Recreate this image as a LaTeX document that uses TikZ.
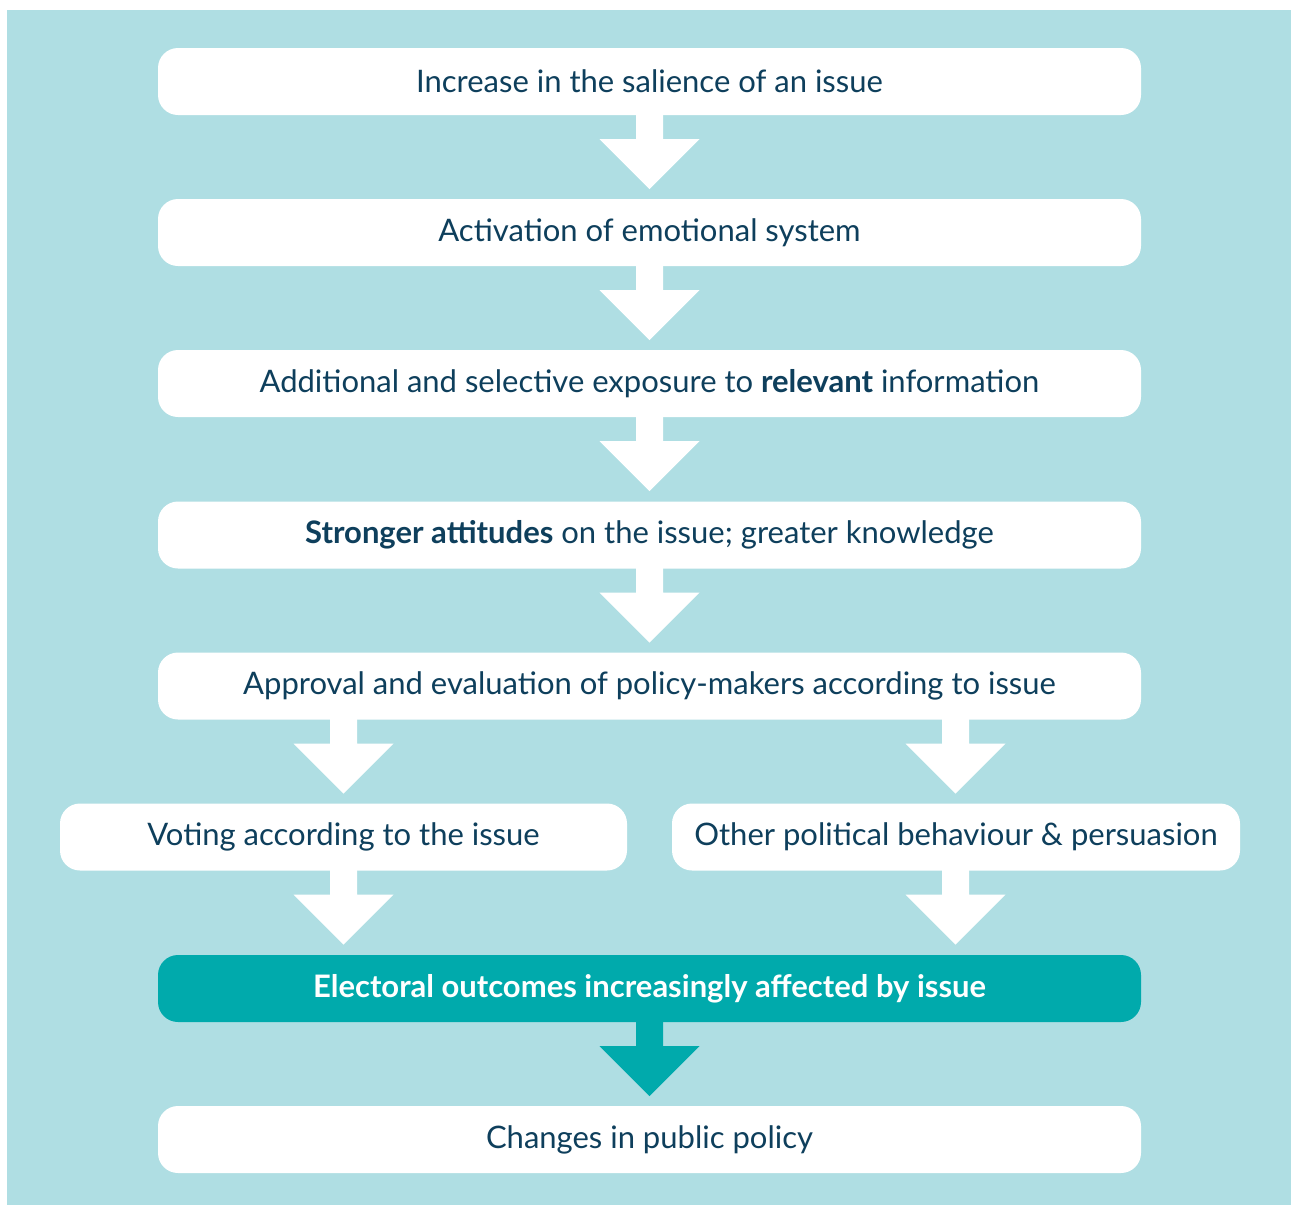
\documentclass[tikz,border=0pt]{standalone}
\usepackage{fontspec}
\setmainfont{Lato}
\usetikzlibrary{calc}
\definecolor{bgteal}{HTML}{AFDEE3}
\definecolor{darkteal}{HTML}{00AAAC}
\definecolor{navy}{HTML}{0E3F5C}
\tikzset{
  box/.style={fill=white, rounded corners=20pt, minimum height=67pt, inner sep=0pt,
    text=navy, font=\fontsize{31}{36}\selectfont},
  widebox/.style={box, minimum width=983pt},
  halfbox/.style={box, minimum width=567pt},
  hlbox/.style={widebox, fill=darkteal, text=white, font=\fontsize{31}{36}\selectfont\bfseries},
}
% #1 = top coordinate (centre of stem top), #2 = colour
\newcommand\flowarr[2]{%
  \fill[#2] ($#1+(-13.5,-1)$) -- ($#1+(-13.5,24)$) -- ($#1+(-50,24)$) -- ($#1+(0,74)$)
    -- ($#1+(50,24)$) -- ($#1+(13.5,24)$) -- ($#1+(13.5,-1)$) -- cycle;}
\begin{document}
\begin{tikzpicture}[x=1pt,y=-1pt]
\useasboundingbox (0,0) rectangle (1291,1205);
\fill[bgteal] (7,10) rectangle (1291,1205);

\node[widebox] (n1) at (649.5,81.5) {Increase in the salience of an issue};
\node[widebox] (n2) at (649.5,232.5) {Activation of emotional system};
\node[widebox] (n3) at (649.5,383.5) {Additional and selective exposure to \textbf{relevant} information};
\node[widebox] (n4) at (649.5,535) {\textbf{Stronger attitudes} on the issue; greater knowledge};
\node[widebox] (n5) at (649.5,686) {Approval and evaluation of policy-makers according to issue};
\node[halfbox] (n6) at (343.5,837) {Voting according to the issue};
\node[halfbox, minimum width=568pt] (n7) at (956,837) {Other political behaviour \& persuasion};
\node[hlbox] (n8) at (649.5,988.5) {Electoral outcomes increasingly affected by issue};
\node[widebox] (n9) at (649.5,1139.5) {Changes in public policy};

\flowarr{(n1.south)}{white}
\flowarr{(n2.south)}{white}
\flowarr{(n3.south)}{white}
\flowarr{(n4.south)}{white}
\flowarr{(n5.south -| n6.north)}{white}
\flowarr{($(n5.south -| n7.north)+(-0.5,0)$)}{white}
\flowarr{(n6.south)}{white}
\flowarr{($(n7.south)+(-0.5,0)$)}{white}
\flowarr{(n8.south)}{darkteal}
\end{tikzpicture}
\end{document}
